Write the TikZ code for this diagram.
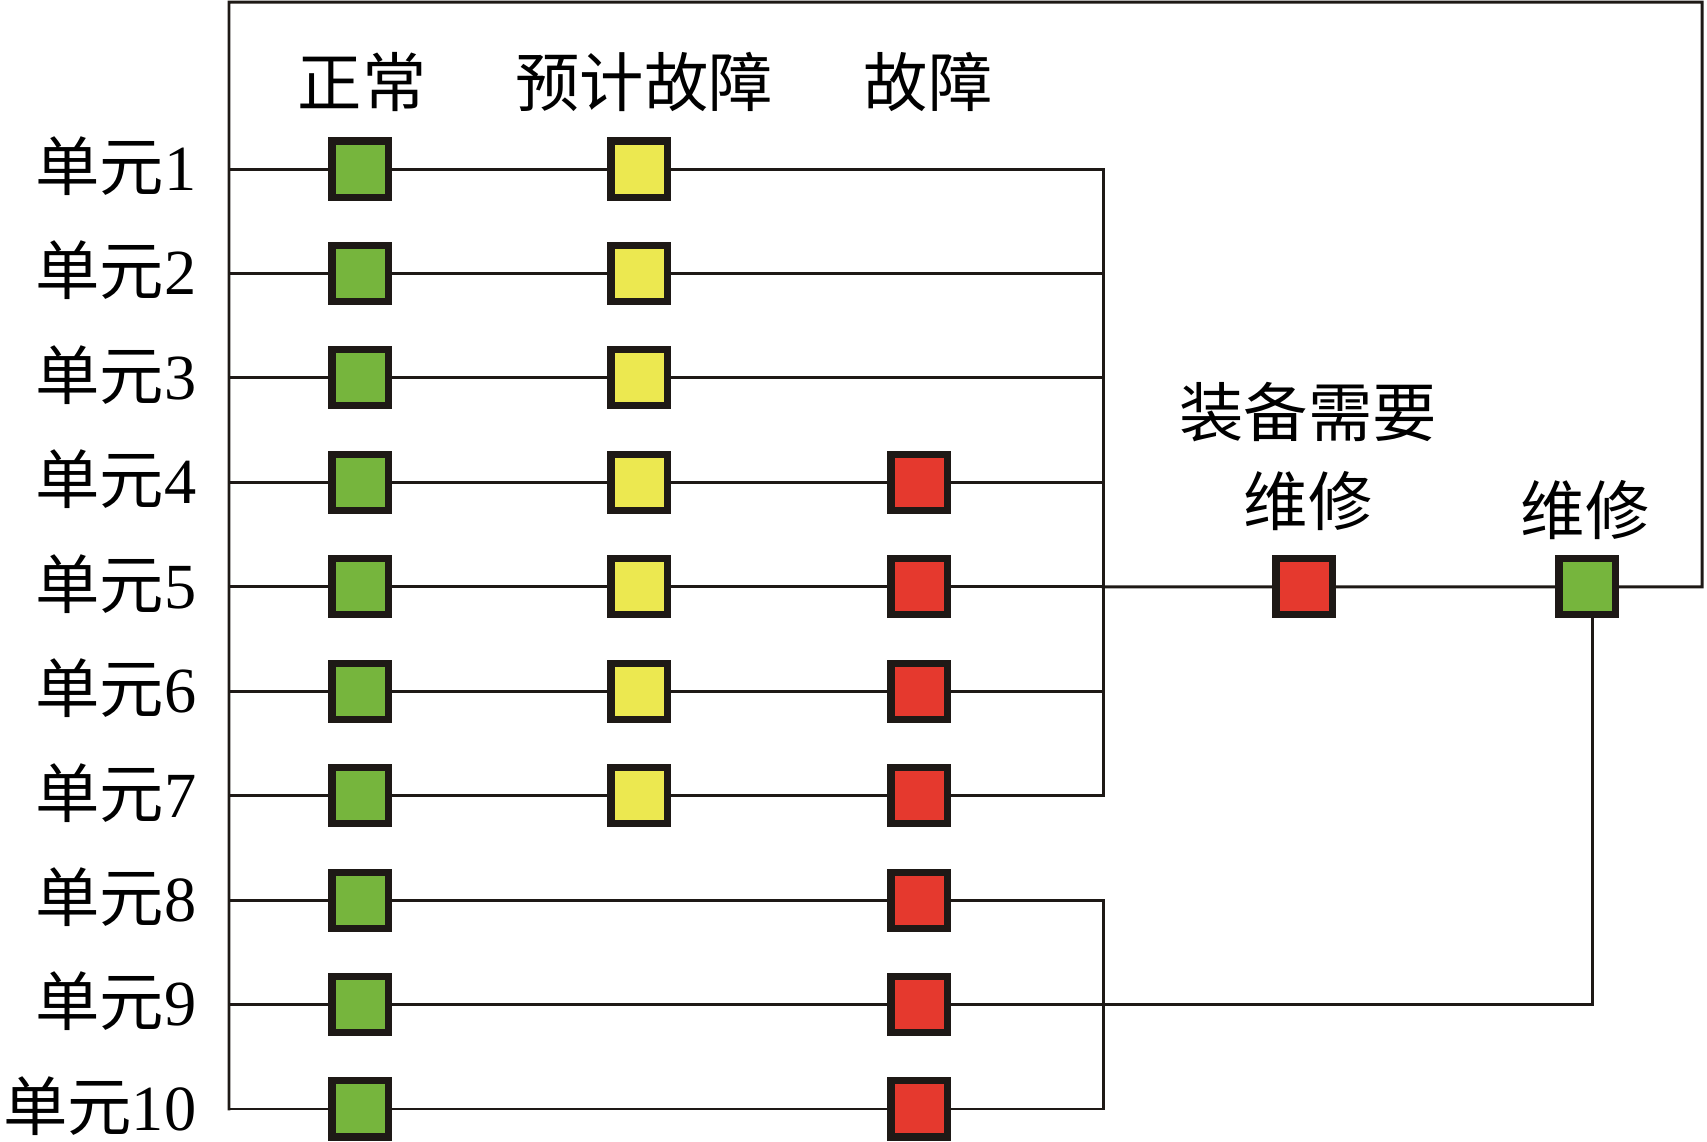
\documentclass[tikz,border=0pt]{standalone}
\usepackage{fontspec}
\setmainfont{Liberation Serif}
\newfontfamily\cjk{Noto Sans CJK SC}
\usetikzlibrary{positioning}
\definecolor{okgreen}{RGB}{118,181,61}
\definecolor{warnyellow}{RGB}{236,232,80}
\definecolor{failred}{RGB}{229,57,46}
\definecolor{wirec}{RGB}{30,25,22}
\tikzset{
  sq/.style={rectangle, draw=wirec, line width=2pt, minimum size=0.56cm, inner sep=0pt},
  gsq/.style={sq, fill=okgreen},
  ysq/.style={sq, fill=warnyellow},
  rsq/.style={sq, fill=failred},
  wire/.style={draw=wirec, line width=0.85pt, line cap=rect},
  lbl/.style={font=\fontsize{18.3pt}{22pt}\selectfont, inner sep=0pt},
}

\begin{document}
\begin{tikzpicture}[x=0.01cm, y=-0.01cm]
  \useasboundingbox (0,0) rectangle (1707,1141);

  %% ==================
  %% column heads
  %% ==================
  \coordinate (cN) at (360,0);
  \coordinate (cP) at (639,0);
  \coordinate (cF) at (919,0);
  \node[lbl] (hN) at (362,82) {\cjk 正常};
  \node[lbl] (hP) at (644,82) {\cjk 预计故障};
  \node[lbl] (hF) at (928,82) {\cjk 故障};

  %% ==================
  %% units
  %% ==================
  \foreach \i in {1,...,10} {
    \pgfmathsetmacro{\y}{169+104.44*(\i-1)}
    \coordinate (L\i) at (229,\y);
    \coordinate (B\i) at (1103,\y);
    \node[lbl, anchor=east] (u\i) at (197,\y-3) {{\cjk 单元}\i};
    \node[gsq] (n\i) at (L\i -| cN) {};
  }
  \foreach \i in {1,...,7}
    \node[ysq] (p\i) at (n\i -| cP) {};
  \foreach \i in {4,...,10}
    \node[rsq] (f\i) at (n\i -| cF) {};

  % maintenance
  \node[rsq] (m1) at (1304,586.8) {};
  \node[gsq] (m2) at (1587,586.8) {};
  \node[lbl] (t1) at (1308,412) {\cjk 装备需要};
  \node[lbl] (t2) at (1308,501) {\cjk 维修};
  \node[lbl] (t3) at (1585,510) {\cjk 维修};

  \coordinate (R5) at (1702,586.8);
  \coordinate (TR) at (1702,2);
  \coordinate (TL) at (229,2);
  \coordinate (T9) at (1592,1003.0);

  %% ==================
  %% wires
  %% ==================
  \foreach \i in {1,2,3}
    \draw[wire] (L\i) -- (n\i) (n\i) -- (p\i) (p\i) -- (B\i);
  \foreach \i in {4,...,7}
    \draw[wire] (L\i) -- (n\i) (n\i) -- (p\i) (p\i) -- (f\i) (f\i) -- (B\i);
  \foreach \i in {8,10}
    \draw[wire] (L\i) -- (n\i) (n\i) -- (f\i) (f\i) -- (B\i);
  \draw[wire] (L9) -- (n9) (n9) -- (f9) (f9) -- (f9 -| T9) -- (T9 |- m2.south);
  \draw[wire] (B1) -- (B7);
  \draw[wire] (B8) -- (B10);
  \draw[wire] (B5) -- (m1) (m1) -- (m2) (m2) -- (R5) -- (TR) -- (TL) -- (L10);
\end{tikzpicture}
\end{document}
